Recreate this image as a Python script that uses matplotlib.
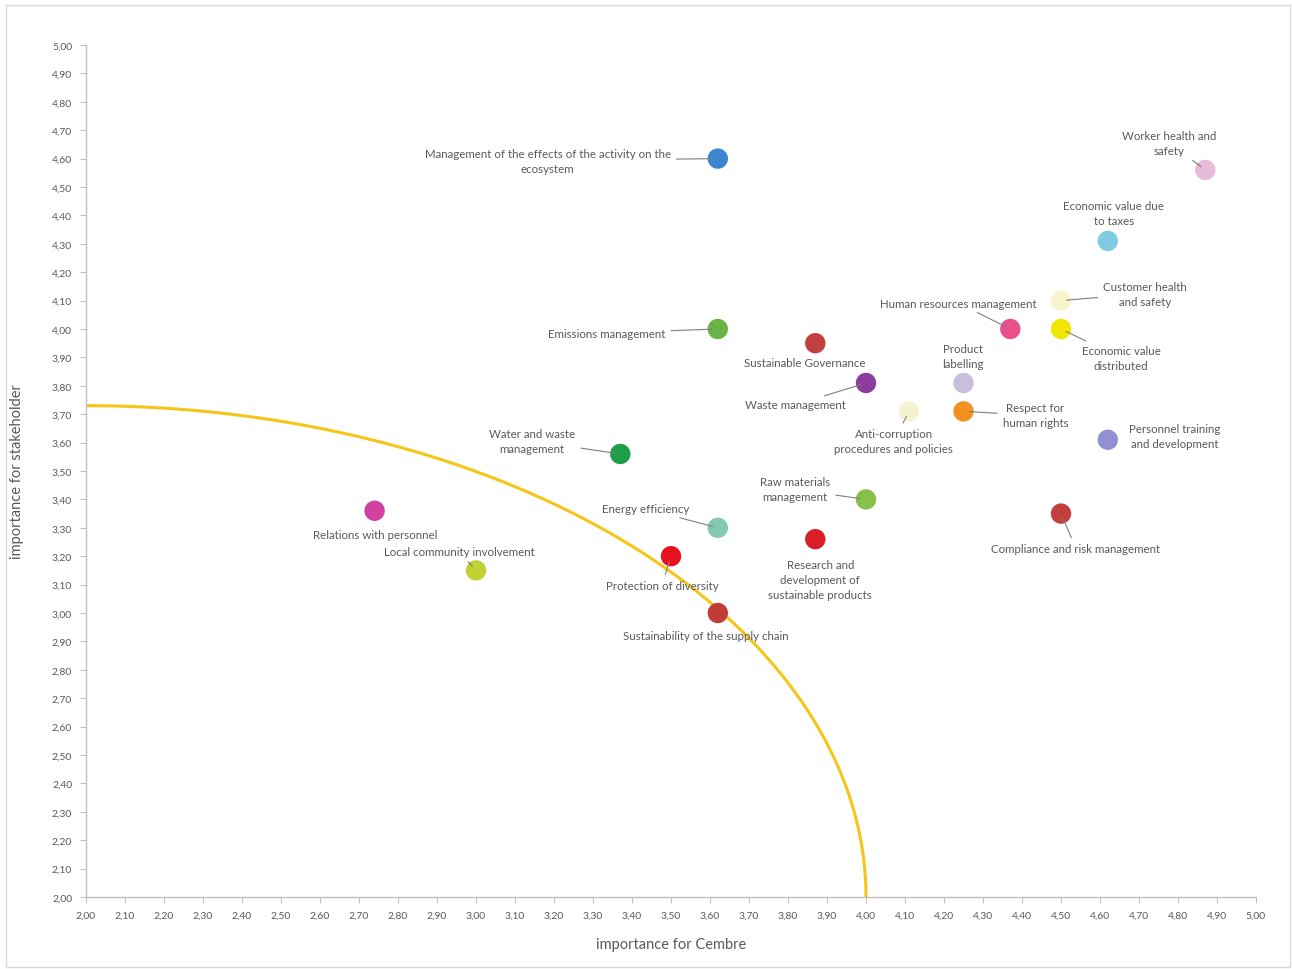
import numpy as np
import matplotlib
matplotlib.use("Agg")
from matplotlib import pyplot as plt
from matplotlib.patches import Rectangle
from matplotlib.ticker import FuncFormatter, MultipleLocator

topics = [
    "Management of the effects of the activity on the\necosystem",
    "Worker health and\nsafety",
    "Economic value due\nto taxes",
    "Customer health\nand safety",
    "Human resources management",
    "Economic value\ndistributed",
    "Emissions management",
    "Sustainable Governance",
    "Waste management",
    "Product\nlabelling",
    "Anti-corruption\nprocedures and policies",
    "Respect for\nhuman rights",
    "Personnel training\nand development",
    "Water and waste\nmanagement",
    "Raw materials\nmanagement",
    "Relations with personnel",
    "Energy efficiency",
    "Compliance and risk management",
    "Research and\ndevelopment of\nsustainable products",
    "Protection of diversity",
    "Local community involvement",
    "Sustainability of the supply chain",
]
importance_cembre = [3.62, 4.87, 4.62, 4.50, 4.37, 4.50, 3.62, 3.87, 4.00, 4.25, 4.11,
                     4.25, 4.62, 3.37, 4.00, 2.74, 3.62, 4.50, 3.87, 3.50, 3.00, 3.62]
importance_stakeholder = [4.60, 4.56, 4.31, 4.10, 4.00, 4.00, 4.00, 3.95, 3.81, 3.81, 3.71,
                          3.71, 3.61, 3.56, 3.40, 3.36, 3.30, 3.35, 3.26, 3.20, 3.15, 3.00]

# threshold curve: quarter ellipse from (2.00, 3.73) to (4.00, 2.00)
curve_center = (2.0, 2.0)
curve_radii = (2.0, 1.73)

colors = ["#3b86cf", "#e6bcd8", "#80cbe0", "#f7f3cd", "#e9508b", "#f1e600",
          "#68b546", "#c2413f", "#8b3c9c", "#c9bfdc", "#f6f2cf", "#f39022",
          "#9191d1", "#1f9e4a", "#88c14a", "#d041a2", "#82c8b2", "#c2413f",
          "#d81f29", "#e8121f", "#c1d132", "#c23b37"]

# label offsets (pixels) and leader flag
label_offsets = [(-170, -2), (-36, 27), (6, 28), (84, 7), (-52, 26), (60, -29),
                 (-111, -4), (-11, -19), (-71, -22), (-1, 27), (-15, -30), (72, -4),
                 (67, 4), (-88, 13), (-71, 10), (1, -24), (-72, 19), (15, -35),
                 (5, -40), (-9, -29), (-17, 19), (-12, -22)]
leaders = [True, True, False, True, True, True, True, False, True, False, True, True,
           False, True, True, False, True, True, False, True, True, False]

txt = "#595959"
plt.rcParams["font.family"] = ["Lato", "DejaVu Sans"]

fig = plt.figure(figsize=(12.92, 9.70), dpi=100)
ax = fig.add_axes([86 / 1292, 1 - 898 / 970, (1256 - 86) / 1292, (898 - 46) / 970])
fig.patches.append(Rectangle((6 / 1292, 2 / 970), 1284 / 1292, 962 / 970,
                             transform=fig.transFigure, fill=False,
                             edgecolor="#d9d9d9", linewidth=1))

t = np.linspace(0, np.pi / 2, 300)
ax.plot(curve_center[0] + curve_radii[0] * np.cos(t),
        curve_center[1] + curve_radii[1] * np.sin(t),
        color="#f5c617", linewidth=2.2, zorder=2, clip_on=True)

ax.scatter(importance_cembre, importance_stakeholder, s=215, c=colors,
           edgecolors="none", zorder=3)

for name, x, y, (dx, dy), lead in zip(topics, importance_cembre,
                                      importance_stakeholder, label_offsets, leaders):
    ax.annotate(
        name, (x, y), xytext=(dx, dy), textcoords="offset pixels",
        ha="center", va="center", fontsize=8.3, color=txt, linespacing=1.45,
        arrowprops=dict(arrowstyle="-", color="#7f7f7f", lw=0.8,
                        shrinkA=2, shrinkB=4) if lead else None,
        zorder=4,
    )

ax.set_xlim(2.0, 5.0)
ax.set_ylim(2.0, 5.0)
ax.xaxis.set_major_locator(MultipleLocator(0.1))
ax.yaxis.set_major_locator(MultipleLocator(0.1))
comma = FuncFormatter(lambda v, _: f"{v:.2f}".replace(".", ","))
ax.xaxis.set_major_formatter(comma)
ax.yaxis.set_major_formatter(comma)
ax.tick_params(axis="both", direction="out", length=4, width=0.8,
               color="#bfbfbf", labelsize=7.5, labelcolor=txt, pad=6)
for side in ("top", "right"):
    ax.spines[side].set_visible(False)
for side in ("left", "bottom"):
    ax.spines[side].set_color("#bfbfbf")
    ax.spines[side].set_linewidth(1)

ax.set_xlabel("importance for Cembre", fontsize=10.5, color=txt, labelpad=12)
ax.set_ylabel("importance for stakeholder", fontsize=10.5, color=txt, labelpad=20)

fig.savefig("out.png", dpi=100)
